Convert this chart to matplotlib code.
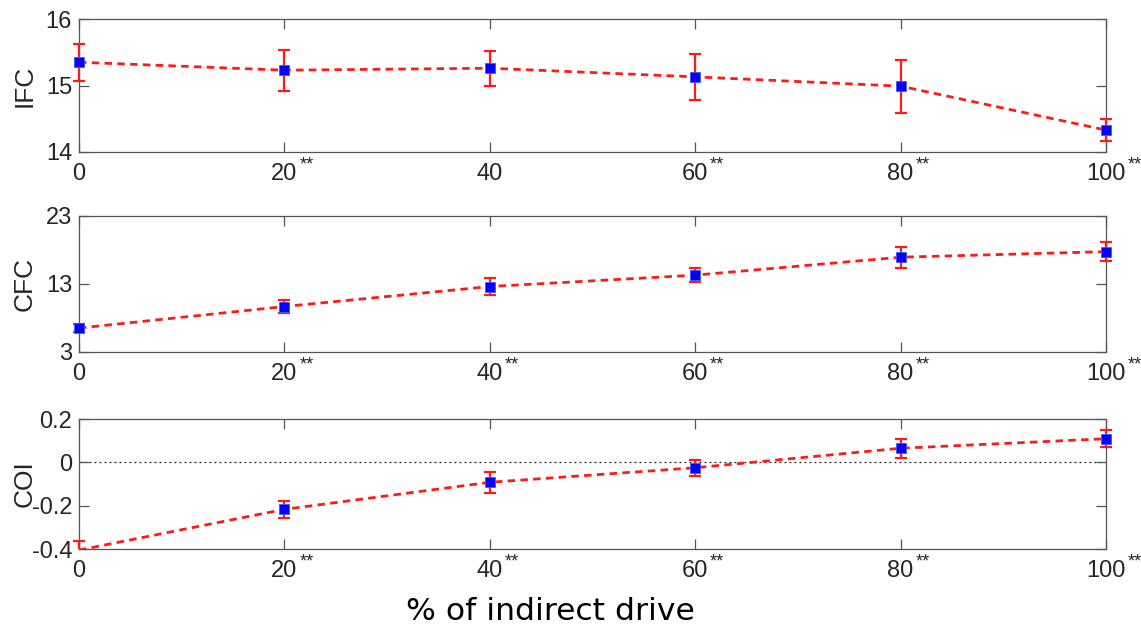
import matplotlib
matplotlib.use("Agg")
import matplotlib.pyplot as plt
import numpy as np
from matplotlib.patches import Rectangle

plt.rcParams['axes.unicode_minus'] = False
plt.rcParams['font.family'] = ['Liberation Sans', 'DejaVu Sans']

x = [0, 20, 40, 60, 80, 100]

ifc_mean = [15.35, 15.23, 15.26, 15.13, 14.99, 14.33]
ifc_err = [0.28, 0.31, 0.26, 0.345, 0.40, 0.17]
cfc_mean = [6.52, 9.69, 12.63, 14.30, 16.94, 17.76]
cfc_err = [0.55, 0.90, 1.20, 1.05, 1.55, 1.40]
coi_mean = [-0.405, -0.217, -0.092, -0.025, 0.065, 0.109]
coi_err = [0.04, 0.04, 0.048, 0.036, 0.045, 0.04]

ifc_yticks = [14, 15, 16]
cfc_yticks = [3, 13, 23]
coi_yticks = [-0.4, -0.2, 0, 0.2]
coi_ytick_labels = ['-0.4', '-0.2', '0', '0.2']

xtick_labels = ['0', '20', '40', '60', '80', '100']
ifc_stars = ['', '**', '', '**', '**', '**']
other_stars = ['', '**', '**', '**', '**', '**']

W, H = 1141, 628
fig = plt.figure(figsize=(W / 100, H / 100), dpi=100)

def rect(l, t, r, b):
    return [l / W, 1 - b / H, (r - l) / W, (b - t) / H]

panels = [
    dict(pos=rect(79, 19, 1106, 152), mean=ifc_mean, err=ifc_err, ylim=(14, 16),
         yticks=ifc_yticks, ylabels=[str(v) for v in ifc_yticks], stars=ifc_stars,
         label='IFC', zero=False),
    dict(pos=rect(79, 216, 1106, 352), mean=cfc_mean, err=cfc_err, ylim=(3, 23),
         yticks=cfc_yticks, ylabels=[str(v) for v in cfc_yticks], stars=other_stars,
         label='CFC', zero=False),
    dict(pos=rect(79, 419, 1106, 549), mean=coi_mean, err=coi_err, ylim=(-0.4, 0.2),
         yticks=coi_yticks, ylabels=coi_ytick_labels, stars=other_stars,
         label='COI', zero=True),
]

spine_col = '#555555'
text_col = '#262626'
tick_fs = 17

for p in panels:
    ax = fig.add_axes(p['pos'])
    ax.set_xlim(0, 100)
    ax.set_ylim(*p['ylim'])
    if p['zero']:
        ax.axhline(0, color='#222222', lw=0.9, linestyle=(0, (1.5, 2.5)), zorder=1)
    clip = Rectangle((-0.02, 0), 1.04, 1, transform=ax.transAxes, facecolor='none')
    ax.add_patch(clip)
    clip.set_visible(False)
    eb = ax.errorbar(x, p['mean'], yerr=p['err'], fmt='none', ecolor='#ff1a1a',
                     elinewidth=1.6, capsize=4.3, capthick=1.6, zorder=3)
    for art in eb.lines[1] + eb.lines[2]:
        art.set_clip_path(clip)
    ln, = ax.plot(x, p['mean'], color='#ff1a1a', lw=2.0, linestyle=(0, (2.7, 1.9)), zorder=2)
    ln.set_clip_path(clip)
    m = np.array(p['mean'])
    lo, hi = p['ylim']
    vis = (m >= lo) & (m <= hi)
    ax.plot(np.array(x)[vis], m[vis], linestyle='none', marker='s', markersize=7,
            markerfacecolor='#0000ff', markeredgecolor='#3b5bff', markeredgewidth=0.6,
            zorder=4, clip_on=False)
    ax.set_xticks(x)
    ax.set_xticklabels(xtick_labels)
    ax.set_yticks(p['yticks'])
    ax.set_yticklabels(p['ylabels'])
    ax.tick_params(axis='both', direction='in', length=7.5, width=0.9, colors=spine_col,
                   labelcolor=text_col, labelsize=tick_fs, top=True, right=True, pad=5)
    ax.tick_params(axis='x', pad=8)
    for s in ax.spines.values():
        s.set_color(spine_col)
        s.set_linewidth(0.9)
    ax.set_ylabel(p['label'], fontsize=19, color=text_col)
    ax.yaxis.set_label_coords(-0.0414, 0.5)
    for xv, lab, st in zip(x, xtick_labels, p['stars']):
        if st:
            off = (len(lab) * 0.556 * tick_fs) / 2 + 1.2
            ax.annotate(st, xy=(xv, 0), xycoords=ax.get_xaxis_transform(),
                        xytext=(off, -3.5), textcoords='offset points', ha='left', va='top',
                        fontsize=13, color=text_col, annotation_clip=False)

fig.text(550 / W, 1 - 611 / H, '% of indirect drive', ha='center', va='center',
         fontsize=22.6, family='DejaVu Sans', color='black')

fig.savefig('out.png', dpi=100)
